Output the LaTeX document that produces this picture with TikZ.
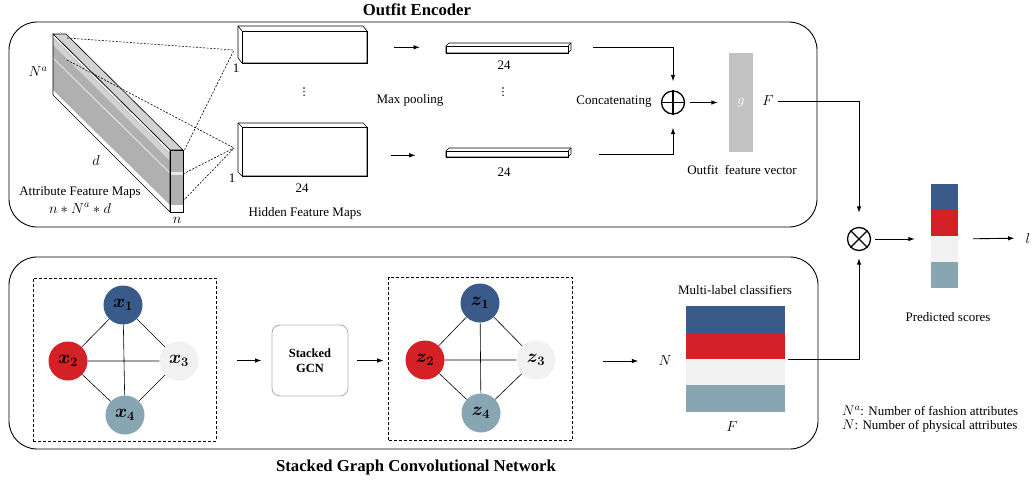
\RequirePackage{fix-cm}
\documentclass[tikz,border=0pt]{standalone}
\usepackage{fontspec}
\setmainfont{Liberation Serif}
\usepackage{amsmath,bm}
\usetikzlibrary{arrows.meta,calc}
\definecolor{nblue}{HTML}{3A5A8A}
\definecolor{nred}{HTML}{D42027}
\definecolor{nlight}{HTML}{F1F1F1}
\definecolor{nslate}{HTML}{88A5B2}
\definecolor{slabgray}{HTML}{B0B0B0}
\definecolor{slablight}{HTML}{D2D2D2}
\definecolor{vecgray}{HTML}{C2C2C2}
\begin{document}
\begin{tikzpicture}[x=1pt,y=-1pt,
  every node/.style={inner sep=0pt},
  txt/.style={font=\fontsize{13}{15}\selectfont},
  mth/.style={font=\fontsize{14.5}{16}\selectfont},
  ttl/.style={font=\fontsize{16.7}{19}\selectfont\bfseries},
  panel/.style={draw, line width=0.9pt, rounded corners=28pt},
  arr/.style={line width=0.9pt, -{Latex[length=6.5pt,width=4.5pt]}},
  kern/.style={line width=0.6pt, dash pattern=on 2pt off 1.5pt},
  gn/.style={circle, minimum size=39pt, font=\fontsize{18.5}{18.5}\selectfont},
  gedge/.style={line width=0.6pt},
  frame/.style={draw, line width=0.7pt, dash pattern=on 3pt off 2pt},
  thin/.style={line width=0.6pt},
  opnode/.style={circle, draw, line width=1.3pt, minimum size=23pt},
  dot/.style={circle, fill=black, minimum size=1.6pt},
]
\useasboundingbox (0,0) rectangle (1032,485);

% ---------- panels and titles ----------
\node[panel, minimum width=808pt, minimum height=205pt] (enc) at (413,124.5) {};
\node[panel, minimum width=809pt, minimum height=192pt] (gcn) at (413.5,353) {};
\node[ttl] (encT) at (417,10) {Outfit Encoder};
\node[ttl] (gcnT) at (416,467) {Stacked Graph Convolutional Network};

% ---------- attribute feature maps (slab) ----------
\coordinate (s1) at (53,34);
\coordinate (s2) at (66,34);
\coordinate (s3) at (183,150);
\coordinate (s4) at (170,150);
\coordinate (s5) at (170,212);
\coordinate (s6) at (53,95);
\coordinate (s7) at (183,212);
\filldraw[thin, fill=slablight] (s1) -- (s2) -- (s3) -- (s4) -- cycle;
\fill[white] (s1) -- (s4) -- (s5) -- (s6) -- cycle;
\fill[slabgray] (53,37) -- (170,153) -- (170,205) -- (53,90) -- cycle;
\fill[slablight] (53,38) -- (170,154) -- (170,161) -- (53,45) -- cycle;
\draw[white!70!slabgray, line width=0.9pt] (53,58) -- (170,173);
\draw[thin] (s1) -- (s4) -- (s5) -- (s6) -- cycle;
\fill[white] (s4) rectangle (s7);
\fill[slabgray] (170,150) rectangle (183,205);
\fill[white!70!slabgray] (170,172) rectangle (183,175);
\draw[thin] (s4) rectangle (s7);

% ---------- hidden feature maps ----------
\filldraw[thin, fill=white] (238,26) -- (363,26) -- (367,31) -- (367,63) -- (242,63) -- (238,58) -- cycle;
\draw[thin] (238,26) -- (242,31);
\node[draw, thin, minimum width=125pt, minimum height=32pt, anchor=north west] (hm1) at (242,31) {};
\filldraw[thin, fill=white] (238,123) -- (363,123) -- (367,127) -- (367,176) -- (242,176) -- (238,172) -- cycle;
\draw[thin] (238,123) -- (242,127);
\node[draw, thin, minimum width=125pt, minimum height=49pt, anchor=north west] (hm2) at (242,127) {};

% ---------- convolution window lines ----------
\coordinate (k1) at (67,38);
\coordinate (k2) at (67,60);
\coordinate (k3) at (183,153);
\coordinate (k4) at (183,174);
\coordinate (k5) at (183,201);
\coordinate (c1) at (234,50);
\coordinate (c2) at (234,148);
\draw[kern] (k1) -- (c1);
\draw[kern] (k3) -- (c1);
\draw[kern] (k2) -- (c2);
\draw[kern] (k4) -- (c2);
\draw[kern] (k5) -- (c2);

% ---------- slab and map labels ----------
\node[mth] (na) at (38,72) {$N^a$};
\node[mth] (dl) at (96,160) {$d$};
\node[txt] (afm) at (80,192) {Attribute Feature Maps};
\node[mth] (afd) at (80,208) {$n * N^a * d$};
\node[mth] (nl) at (177,220) {$n$};
\node[txt] (one1) at (236,68) {1};
\node[txt] (one2) at (232,178) {1};
\node[txt] (w24a) at (302,188) {24};
\node[txt] (hfm) at (305,213) {Hidden Feature Maps};
\foreach \k in {0,1,2} {
  \node[dot] (da\k) at (304,88+3.6*\k) {};
  \node[dot] (db\k) at (503,88+3.6*\k) {};
}

% ---------- max-pooled vectors ----------
\filldraw[thin, fill=white] (446,46) -- (449,43) -- (571,43) -- (571,50) -- (568,53) -- (446,53) -- cycle;
\draw[thin] (568,46) -- (571,43);
\node[draw, thin, minimum width=122pt, minimum height=7pt, anchor=north west] (pb1) at (446,46) {};
\filldraw[thin, fill=white] (446,151) -- (449,148) -- (571,148) -- (571,154) -- (568,157) -- (446,157) -- cycle;
\draw[thin] (568,151) -- (571,148);
\node[draw, thin, minimum width=122pt, minimum height=6pt, anchor=north west] (pb2) at (446,151) {};
\node[txt] (w24b) at (504,65) {24};
\node[txt] (w24c) at (504,172) {24};
\node[txt] (mp) at (410,100) {Max pooling};

\draw[arr, shorten <=26pt, shorten >=26pt] (hm1.east) -- (hm1.east -| pb1.west);
\draw[arr] ($(hm2.east)+(23,3.5)$) -- ($(hm2.east)+(48,3.5)$);

% ---------- concatenation and outfit vector ----------
\node[opnode] (cat) at (673,102.5) {};
\draw[line width=1.3pt] (cat.north) -- (cat.south) (cat.west) -- (cat.east);
\node[txt] (catl) at (614,102) {Concatenating};
\draw[arr, shorten >=9pt] ($(pb1.east)+(24,-2.5)$) -| (cat);
\draw[arr, shorten >=13pt] ($(pb2.east)+(30,0)$) -| (cat);

\node[fill=vecgray, minimum width=24pt, minimum height=99pt] (gbar) at (741,102.5) {};
\node[mth, text=white] (gl) at (gbar) {$g$};
\draw[arr, shorten <=5pt, shorten >=11pt] (cat) -- (gbar);
\node[txt] (ofv) at (742,170) {Outfit~ feature vector};
\node[mth] (Fo) at (768,101) {$F$};

% ---------- fusion and predicted scores ----------
\node[opnode] (mul) at (859,239) {};
\draw[line width=1.3pt] (mul.north west) -- (mul.south east) (mul.north east) -- (mul.south west);
\draw[arr, shorten <=4pt, shorten >=14pt] (Fo) -| (mul);

\node[minimum width=27pt, minimum height=104pt] (sc) at (944.5,236) {};
\fill[nblue]  (931,184) rectangle (958,210);
\fill[nred]   (931,210) rectangle (958,236);
\fill[nlight] (931,236) rectangle (958,262);
\fill[nslate] (931,262) rectangle (958,288);
\node[txt] (psl) at (948,317) {Predicted scores};
\node[mth] (lab) at (1028,238) {$l$};
\draw[arr, shorten <=4pt, shorten >=16pt] (mul.east) -- (mul.east -| sc.west);
\draw[arr, shorten <=15pt, shorten >=11pt] (sc.east |- mul) -- (lab);

% ---------- graph before GCN ----------
\node[frame, minimum width=183pt, minimum height=163pt] (fr1) at (124.5,359.5) {};
\node[gn, fill=nblue]  (x1) at (123,305) {$\bm{x_1}$};
\node[gn, fill=nred]   (x2) at (68,361)  {$\bm{x_2}$};
\node[gn, fill=nlight] (x3) at (179,361) {$\bm{x_3}$};
\node[gn, fill=nslate] (x4) at (125,415) {$\bm{x_4}$};
\draw[gedge] (x1) -- (x2) (x1) -- (x3) (x1) -- (x4)
             (x2) -- (x3) (x2) -- (x4) (x3) -- (x4);

% ---------- stacked GCN ----------
\node[draw=gray!60, line width=0.9pt, rounded corners=8pt, minimum width=76pt,
      minimum height=71pt, align=center,
      font=\fontsize{12.5}{15}\selectfont\bfseries] (sg) at (310,360.5) {Stacked\\GCN};
\draw[arr, shorten <=21pt, shorten >=10pt] (fr1.east |- sg) -- (sg.west);

% ---------- graph after GCN ----------
\node[frame, minimum width=183.7pt, minimum height=163pt] (fr2) at (480.5,358.5) {};
\node[gn, fill=nblue]  (z1) at (480,303) {$\bm{z_1}$};
\node[gn, fill=nred]   (z2) at (425,360) {$\bm{z_2}$};
\node[gn, fill=nlight] (z3) at (536,360) {$\bm{z_3}$};
\node[gn, fill=nslate] (z4) at (481,413) {$\bm{z_4}$};
\draw[gedge] (z1) -- (z2) (z1) -- (z3) (z1) -- (z4)
             (z2) -- (z3) (z2) -- (z4) (z3) -- (z4);
\draw[arr, shorten <=9pt, shorten >=4.6pt] (sg.east) -- (sg.east -| fr2.west);

% ---------- multi-label classifiers ----------
\node[mth] (Nl) at (665,361) {$N$};
\draw[arr, shorten <=30pt, shorten >=20pt] (fr2.east |- Nl) -- (Nl);
\node[minimum width=99pt, minimum height=106pt] (cls) at (735.5,359) {};
\fill[nblue]  (686,306) rectangle (785,333);
\fill[nred]   (686,333) rectangle (785,359);
\fill[nlight] (686,359) rectangle (785,385);
\fill[nslate] (686,385) rectangle (785,412);
\node[txt] (mlc) at (735,290) {Multi-label classifiers};
\node[mth] (Fc) at (732,427) {$F$};
\draw[arr, shorten <=3pt, shorten >=7pt] (cls) -| (mul);

% ---------- legend ----------
\node[txt, anchor=west] (lg1) at (842,411) {\fontsize{14}{15}\selectfont$N^a$\fontsize{13}{15}\selectfont: Number of fashion attributes};
\node[txt, anchor=west] (lg2) at (842,426) {\fontsize{14}{15}\selectfont$N$\fontsize{13}{15}\selectfont: Number of physical attributes};
\end{tikzpicture}
\end{document}
